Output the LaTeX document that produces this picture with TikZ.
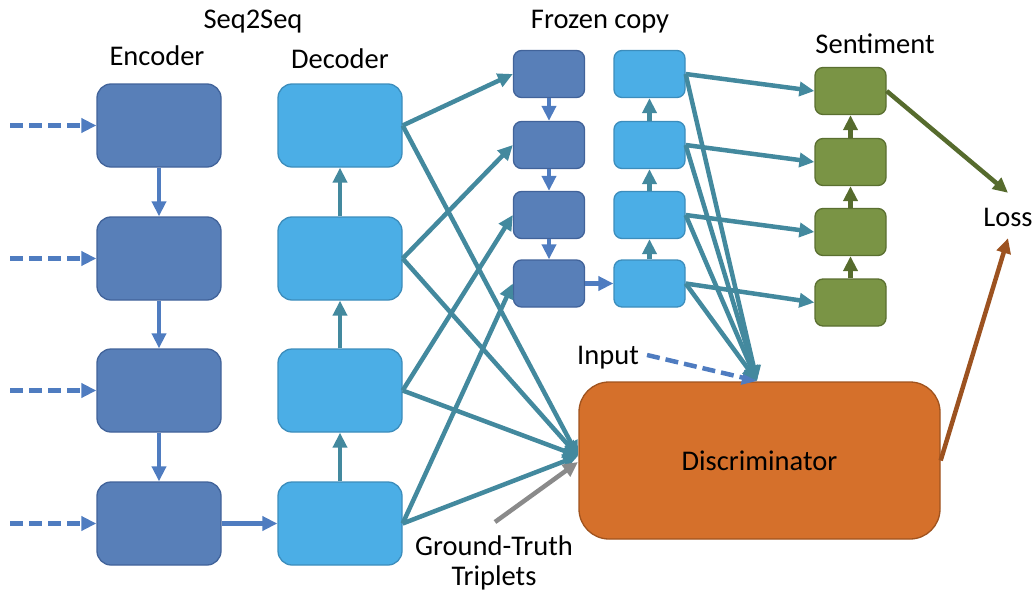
\documentclass[tikz,border=0pt]{standalone}
\usepackage{fontspec}
\setmainfont{Carlito}
\usetikzlibrary{arrows.meta}
\definecolor{encF}{HTML}{587FB8}
\definecolor{encD}{HTML}{41639A}
\definecolor{decF}{HTML}{4BAEE6}
\definecolor{decD}{HTML}{3C8DBC}
\definecolor{senF}{HTML}{7A9445}
\definecolor{senD}{HTML}{5A6F30}
\definecolor{disF}{HTML}{D5702B}
\definecolor{disD}{HTML}{A0531E}
\definecolor{bluA}{HTML}{4F7CC0}
\definecolor{tealC}{HTML}{43899E}
\definecolor{oliveA}{HTML}{566B2D}
\definecolor{brownA}{HTML}{9C5220}
\definecolor{grayA}{HTML}{8A8A8A}
\begin{document}
\begin{tikzpicture}[x=1pt,y=-1pt,
  box/.style={rounded corners=14pt, line width=1.3pt, minimum width=124pt, minimum height=83pt, inner sep=0pt},
  sbox/.style={rounded corners=8pt, line width=1.3pt, minimum width=71pt, minimum height=47pt, inner sep=0pt},
  enc/.style={fill=encF, draw=encD},
  dec/.style={fill=decF, draw=decD},
  sen/.style={fill=senF, draw=senD},
  lbl/.style={font=\fontsize{28.5}{31}\selectfont, inner sep=0pt, text height=18pt, text depth=0pt},
  tip/.style={-{Triangle[length=15pt,width=14pt]}},
  bluearr/.style={tip, line width=4.5pt, draw=bluA},
  tealarr/.style={tip, line width=4.5pt, draw=tealC},
  dashin/.style={tip, line width=4.5pt, draw=bluA, dash pattern=on 13pt off 6pt},
  olivearr/.style={tip, line width=4.5pt, draw=oliveA},
]
\useasboundingbox (0,0) rectangle (1036,594);

% labels
\node[lbl] (seq) at (253,20) {Seq2Seq};
\node[lbl] (encl) at (157,57) {Encoder};
\node[lbl] (decl) at (340,60) {Decoder};
\node[lbl] (froz) at (600,20) {Frozen copy};
\node[lbl] (sent) at (875,45) {Sentiment};
\node[lbl] (loss) at (1008,217) {Loss};
\node[lbl] (inp) at (608,355) {Input};
\node[lbl] (gt1) at (494,546) {Ground-Truth};
\node[lbl] (gt2) at (494,576) {Triplets};

% encoder / decoder
\foreach \i/\y in {1/125.5,2/258.5,3/390.5,4/523.5}{
  \node[box,enc] (enc\i) at (159,\y) {};
  \node[box,dec] (dec\i) at (340,\y) {};
  \coordinate (in\i) at (10,\y);
}
% frozen copy
\foreach \i/\y in {1/74,2/145,3/215,4/283.5}{
  \node[sbox,enc] (fd\i) at (549,\y) {};
  \node[sbox,dec] (fl\i) at (649.5,\y) {};
}
% sentiment
\foreach \i/\y in {1/91,2/162,3/232,4/302.5}{
  \node[sbox,sen] (s\i) at (850.5,\y) {};
}
% discriminator
\node[rounded corners=30pt, line width=1.3pt, fill=disF, draw=disD, minimum width=361pt, minimum height=157pt, inner sep=0pt,
  font=\fontsize{28.5}{31}\selectfont] (disc) at (759.5,460.5) {Discriminator};

\coordinate (dl) at (578,456);
\coordinate (dl2) at (578,462);
\coordinate (gts) at (495,522);
\coordinate (dtop) at (757,381);

% encoder inputs and chain
\foreach \i in {1,2,3,4}{ \draw[dashin] (in\i) -- (enc\i.west); }
\draw[bluearr] (enc1.south) -- (enc2.north);
\draw[bluearr] (enc2.south) -- (enc3.north);
\draw[bluearr] (enc3.south) -- (enc4.north);
\draw[bluearr] (enc4.east) -- (dec4.west);
\draw[tealarr] (dec4.north) -- (dec3.south);
\draw[tealarr] (dec3.north) -- (dec2.south);
\draw[tealarr] (dec2.north) -- (dec1.south);

% decoder to frozen copy and discriminator
\foreach \i in {1,2,3,4}{
  \draw[tealarr] (dec\i.east) -- (fd\i.west);
  \draw[tealarr] (dec\i.east) -- (dl);
}
\draw[tip, line width=4.5pt, draw=grayA] (gts) -- (dl2);

% frozen copy chains
\draw[bluearr] (fd1.south) -- (fd2.north);
\draw[bluearr] (fd2.south) -- (fd3.north);
\draw[bluearr] (fd3.south) -- (fd4.north);
\draw[bluearr] (fd4.east) -- (fl4.west);
\draw[tealarr] (fl4.north) -- (fl3.south);
\draw[tealarr] (fl3.north) -- (fl2.south);
\draw[tealarr] (fl2.north) -- (fl1.south);

% input dashed
\draw[dashin] (inp.east) ++(8,0) coordinate (inps) (inps) -- (dtop);

% frozen light to sentiment and discriminator
\foreach \i in {1,2,3,4}{
  \draw[tealarr] (fl\i.east) -- (s\i.west);
  \draw[tealarr] (fl\i.east) -- (dtop);
}

% sentiment chain
\draw[olivearr] (s4.north) -- (s3.south);
\draw[olivearr] (s3.north) -- (s2.south);
\draw[olivearr] (s2.north) -- (s1.south);

% to loss
\draw[olivearr] (s1.east) -- ([yshift=15pt]loss.north);
\draw[tip, line width=4.5pt, draw=brownA] (disc.east) -- ([yshift=-12pt]loss.south);
\end{tikzpicture}
\end{document}
